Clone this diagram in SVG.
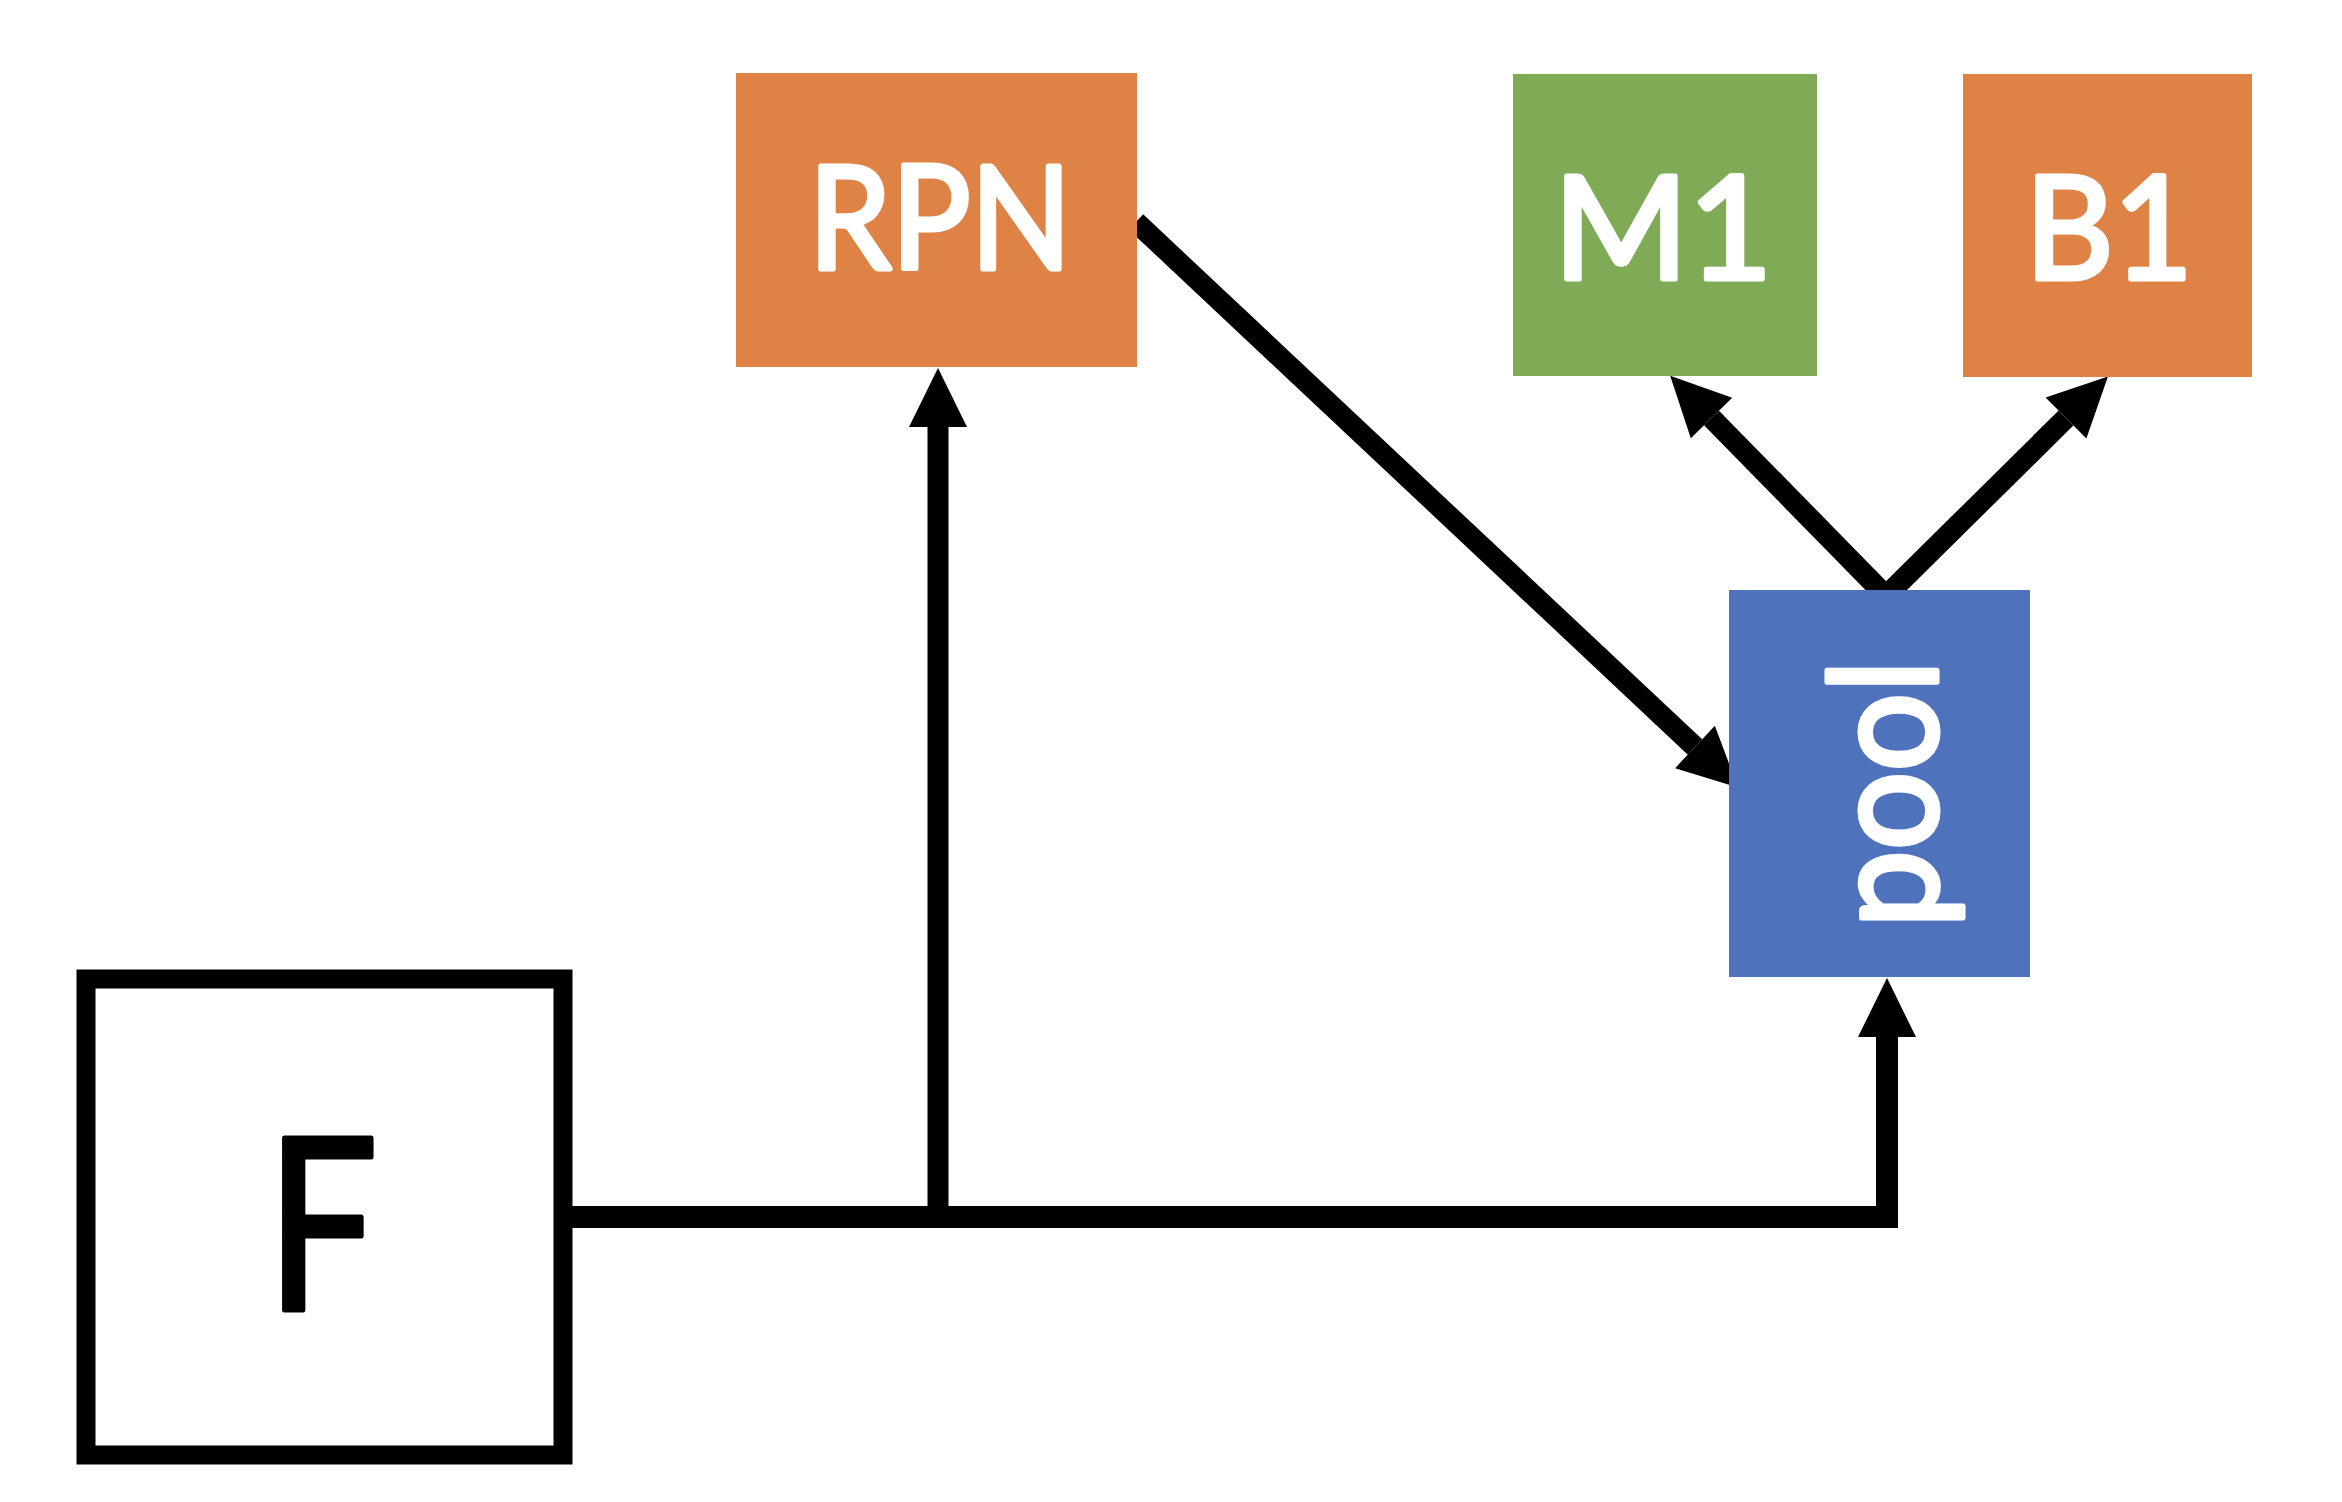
<svg xmlns="http://www.w3.org/2000/svg" width="2342" height="1502" viewBox="0 0 2342 1502">
  <style>
    .lbl { font-family: Lato, "Liberation Sans", sans-serif; font-weight: 400; font-size: 143px; fill: #ffffff; stroke: #ffffff; stroke-width: 5; stroke-linejoin: round; text-anchor: middle; }
    .conn { fill: none; stroke: #000000; stroke-width: 21; stroke-linejoin: miter; stroke-linecap: butt; }
  </style>
  <defs>
    <marker id="ah" markerUnits="userSpaceOnUse" markerWidth="60" markerHeight="60" refX="0" refY="29" orient="auto" overflow="visible">
      <path d="M0,0 L59,29 L0,58 Z" fill="#000000"/>
    </marker>
  </defs>
  <rect width="2342" height="1502" fill="#ffffff"/>

  <g id="connectors">
    <path class="conn" d="M938,1217 V427" marker-end="url(#ah)"/>
    <path class="conn" style="stroke-width:22" d="M563,1217 H1887 V1037" marker-end="url(#ah)"/>
    <path class="conn" d="M1136,222 L1695,747" marker-end="url(#ah)"/>
    <path class="conn" d="M1886,596 L1711.5,418" marker-end="url(#ah)"/>
    <path class="conn" d="M1886,596 L2066,418" marker-end="url(#ah)"/>
  </g>

  <g id="node-F">
    <rect x="86" y="979" width="477" height="476" fill="#ffffff" stroke="#000000" stroke-width="19"/>
    <text x="322" y="1310" text-anchor="middle" font-family="Lato, 'Liberation Sans', sans-serif" font-weight="400" font-size="241" fill="#000000" stroke="#000000" stroke-width="5" stroke-linejoin="round" textLength="112" lengthAdjust="spacingAndGlyphs">F</text>
  </g>

  <g id="node-RPN">
    <rect x="736" y="73" width="401" height="294" fill="#DF8245"/>
    <text class="lbl" x="940" y="269" textLength="263" lengthAdjust="spacingAndGlyphs">RPN</text>
  </g>

  <g id="node-M1">
    <rect x="1513" y="74" width="304" height="302" fill="#7FAA56"/>
    <text class="lbl" x="1663" y="279" textLength="219" lengthAdjust="spacingAndGlyphs">M1</text>
  </g>

  <g id="node-B1">
    <rect x="1963" y="74" width="289" height="303" fill="#DF8245"/>
    <text class="lbl" x="2109" y="279" textLength="168" lengthAdjust="spacingAndGlyphs">B1</text>
  </g>

  <g id="node-pool">
    <rect x="1729" y="590" width="301" height="387" fill="#4E73BC"/>
    <text class="lbl" style="font-size:150px" transform="translate(1937,794) rotate(-90)" x="0" y="0" textLength="268" lengthAdjust="spacingAndGlyphs">pool</text>
  </g>
</svg>
